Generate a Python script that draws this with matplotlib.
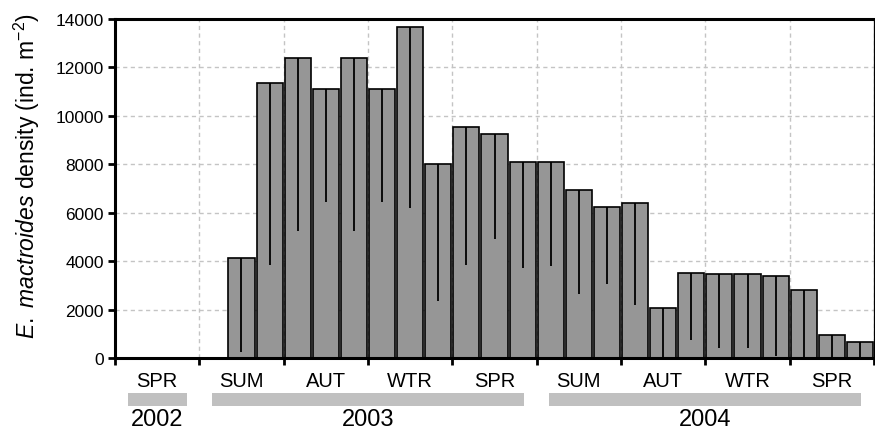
import matplotlib
matplotlib.use("Agg")
import matplotlib.pyplot as plt
import matplotlib.transforms as mtransforms

plt.rcParams['font.family'] = ['Liberation Sans', 'DejaVu Sans']
plt.rcParams['mathtext.fontset'] = 'custom'
plt.rcParams['mathtext.rm'] = 'Liberation Sans'
plt.rcParams['mathtext.it'] = 'Liberation Sans:italic'

# one slot per sampling; 3 slots per season
seasons = ['SPR', 'SUM', 'AUT', 'WTR', 'SPR', 'SUM', 'AUT', 'WTR', 'SPR']
years = ['2002', '2003', '2004']
year_seasons = [(0, 1), (1, 5), (5, 9)]  # season index ranges for each year

slots = list(range(4, 27))
density = [4150, 11350, 12400, 11100, 12400, 11100, 13650, 8000, 9550, 9250,
           8100, 8100, 6950, 6250, 6400, 2050, 3500, 3450, 3450, 3400, 2800,
           950, 680]
lower = [260, 3850, 5230, 6440, 5230, 6440, 6200, 2350, 3850, 4900,
         3730, 3800, 2640, 3040, 2180, 0, 740, 410, 410, 100, 0,
         0, 0]

per_season = 3
n_slots = per_season * len(seasons)

fig = plt.figure(figsize=(8.75, 4.35), dpi=100)
ax = fig.add_axes([0.1314, 0.1747, 0.8675, 0.7793])

x = [s + 0.5 for s in slots]
ax.bar(x, density, width=0.93, color='#969696', edgecolor='black',
       linewidth=1.2, zorder=2)
ax.vlines(x, lower, density, color='black', linewidth=1.3, zorder=3)

ax.set_xlim(0, n_slots)
ax.set_ylim(0, 14000)
ax.set_yticks(range(0, 14001, 2000))
ax.tick_params(axis='y', labelsize=12.5, direction='out', length=5, width=2,
               pad=3)

# season boundaries as major ticks, season names as minor tick labels
bounds = list(range(0, n_slots + 1, per_season))
ax.set_xticks(bounds)
ax.set_xticklabels([])
ax.set_xticks([b + per_season / 2 for b in bounds[:-1]], minor=True)
ax.set_xticklabels(seasons, minor=True)
ax.tick_params(axis='x', which='major', direction='out', length=5, width=2)
ax.tick_params(axis='x', which='minor', length=0, labelsize=14.5, pad=9)

ax.grid(True, which='major', color='#c4c4c4', linestyle=(0, (3, 2.5)),
        linewidth=1, zorder=0)
ax.set_axisbelow(True)

ax.spines['left'].set_linewidth(2.2)
ax.spines['bottom'].set_linewidth(2.2)
ax.spines['top'].set_linewidth(2.2)
ax.spines['right'].set_linewidth(0.9)

# y label sits a bit above the axes centre in the original
fig.text(27 / 875, 1 - 176 / 435,
         r'$\mathit{E.\ mactroides}$ density (ind. m$^{\mathrm{-2}}$)',
         rotation=90, ha='center', va='center', fontsize=16.5)

# year bands under the season labels
trans = mtransforms.blended_transform_factory(ax.transData, ax.transAxes)
inset = 0.45
for yr, (s0, s1) in zip(years, year_seasons):
    x0 = s0 * per_season + inset
    x1 = s1 * per_season - inset
    ax.add_patch(plt.Rectangle((x0, -0.142), x1 - x0, 0.038, transform=trans,
                               color='#c0c0c0', clip_on=False, lw=0))
    ax.text((x0 + x1) / 2, -0.18, yr, transform=trans, ha='center',
            va='center', fontsize=17)

fig.savefig('out.png', dpi=100)
